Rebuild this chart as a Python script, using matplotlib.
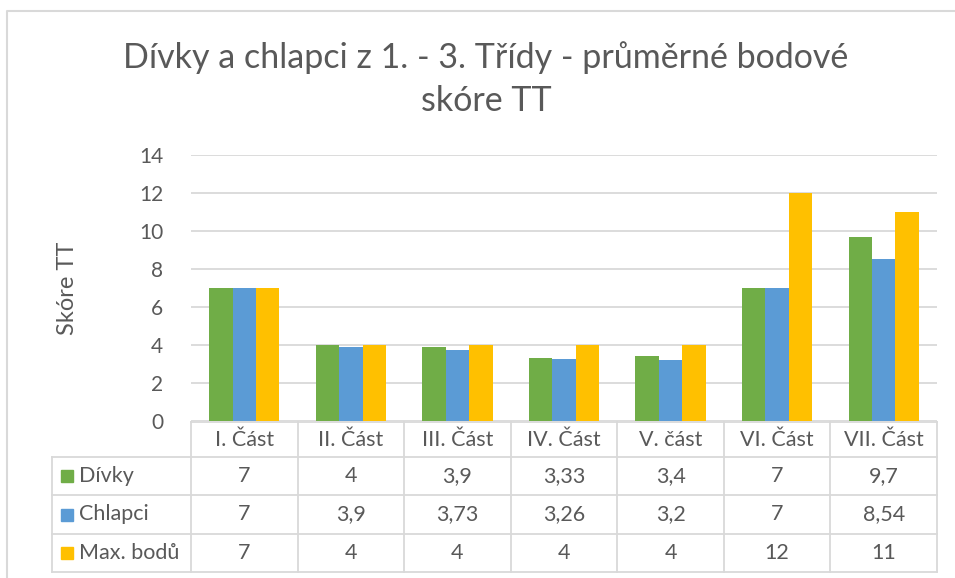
import numpy as np
import matplotlib.pyplot as plt
from matplotlib.patches import Rectangle

plt.rcParams['font.family'] = ['Lato', 'DejaVu Sans']

categories = ['I. Část', 'II. Část', 'III. Část', 'IV. Část', 'V. část', 'VI. Část', 'VII. Část']
divky = [7, 4, 3.9, 3.33, 3.4, 7, 9.7]
chlapci = [7, 3.9, 3.73, 3.26, 3.2, 7, 8.54]
max_bodu = [7, 4, 4, 4, 4, 12, 11]
series_names = ['Dívky', 'Chlapci', 'Max. bodů']
colors = ['#70ad47', '#5b9bd5', '#ffc000']
yticks = [0, 2, 4, 6, 8, 10, 12, 14]

W, H = 955, 578
txt = '#595959'
grid = '#d9d9d9'

# plot area in pixels
x0, x1 = 191, 937
ytop, ybot = 155, 421

fig = plt.figure(figsize=(W / 100, H / 100), dpi=100)

# overlay for border, title, table (pixel coords)
ov = fig.add_axes([0, 0, 1, 1])
ov.set_xlim(0, W)
ov.set_ylim(H, 0)
ov.axis('off')

ax = fig.add_axes([x0 / W, (H - ybot) / H, (x1 - x0) / W, (ybot - ytop) / H])
n = len(categories)
x = np.arange(n)
bw = 0.22
data = [divky, chlapci, max_bodu]
for k, (vals, c) in enumerate(zip(data, colors)):
    ax.bar(x + (k - 1) * bw, vals, width=bw, color=c, zorder=3)
ax.set_xlim(-0.5, n - 0.5)
ax.set_ylim(0, 14)
ax.set_yticks(yticks)
ax.set_yticklabels([str(t) for t in yticks], fontsize=15, color=txt)
ax.set_xticks([])
ax.tick_params(axis='y', length=0, pad=20)
ax.grid(axis='y', color=grid, lw=1.3, zorder=0)
for s in ax.spines.values():
    s.set_visible(False)
ax.set_ylabel('Skóre TT', fontsize=17, color=txt, labelpad=44)

# chart border
ov.plot([7, 7, W], [H, 11, 11], color='#d9d9d9', lw=1.5, clip_on=False)

# title
ov.text(486, 58, 'Dívky a chlapci z 1. - 3. Třídy - průměrné bodové',
        fontsize=24.5, color=txt, ha='center', va='center')
ov.text(486, 101, 'skóre TT', fontsize=24.5, color=txt,
        ha='center', va='center')

# data table
cw = (x1 - x0) / n
rows_y = [422, 457, 495, 534, 572]
tl = '#d9d9d9'
ov.plot([x0, x1], [rows_y[0], rows_y[0]], color=tl, lw=1.3)
for ry in rows_y[1:]:
    ov.plot([52, x1], [ry, ry], color=tl, lw=1.3)
ov.plot([52, 52], [rows_y[1], rows_y[-1]], color=tl, lw=1.3)
for i in range(n + 1):
    ov.plot([x0 + i * cw, x0 + i * cw], [rows_y[0], rows_y[-1]], color=tl, lw=1.3)

def fmt(v):
    s = ('%g' % v)
    return s.replace('.', ',')

for i, cat in enumerate(categories):
    ov.text(x0 + (i + 0.5) * cw, (rows_y[0] + rows_y[1]) / 2, cat, fontsize=15.5,
            color=txt, ha='center', va='center')
for r, (name, vals, c) in enumerate(zip(series_names, data, colors)):
    yc = (rows_y[r + 1] + rows_y[r + 2]) / 2
    ov.add_patch(Rectangle((61, yc - 6), 12, 12, color=c))
    ov.text(79, yc, name, fontsize=15.5, color=txt, ha='left', va='center')
    for i, v in enumerate(vals):
        ov.text(x0 + (i + 0.5) * cw, yc, fmt(v), fontsize=15.5, color=txt,
                ha='center', va='center')

fig.savefig('out.png', dpi=100)
